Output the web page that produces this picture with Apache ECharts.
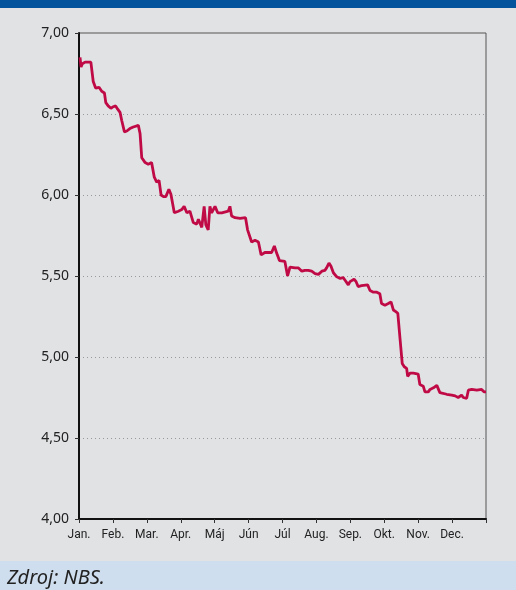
<!DOCTYPE html>
<html>
<head>
<meta charset="utf-8">
<script src="https://cdn.jsdelivr.net/npm/echarts@6/dist/echarts.min.js"></script>
<style>
html,body{margin:0;padding:0;background:#e1e2e4;}
#c{width:516px;height:590px;}
</style>
</head>
<body>
<div id="c"></div>
<script>
// month labels (tick positions at month starts, 0..11)
const monthLabels = ['Jan.','Feb.','Mar.','Apr.','Máj','Jún','Júl','Aug.','Sep.','Okt.','Nov.','Dec.'];
// y tick values
const yTicks = [4.0, 4.5, 5.0, 5.5, 6.0, 6.5, 7.0];
// time position in months (0 = 1 Jan, 12 = 31 Dec)
const t = [0.03,0.06,0.10,0.18,0.35,0.42,0.49,0.59,0.67,0.75,0.79,0.86,0.94,1.01,1.08,1.14,1.21,1.26,1.34,1.41,1.50,1.60,1.75,1.80,1.85,1.95,2.04,2.14,2.22,2.29,2.36,2.42,2.49,2.56,2.65,2.71,2.81,2.93,3.03,3.10,3.18,3.27,3.37,3.47,3.52,3.62,3.69,3.74,3.81,3.86,3.91,4.01,4.09,4.21,4.40,4.45,4.50,4.60,4.75,4.91,4.97,5.09,5.19,5.29,5.37,5.48,5.68,5.76,5.83,5.91,6.07,6.15,6.17,6.22,6.37,6.47,6.57,6.66,6.76,6.86,6.96,7.06,7.16,7.25,7.30,7.37,7.43,7.50,7.60,7.70,7.79,7.84,7.89,7.94,7.99,8.04,8.11,8.17,8.23,8.33,8.51,8.58,8.68,8.78,8.87,8.92,9.02,9.07,9.12,9.20,9.27,9.34,9.40,9.46,9.53,9.59,9.66,9.69,9.76,9.86,10.00,10.05,10.15,10.20,10.30,10.35,10.45,10.55,10.59,10.64,10.69,10.84,10.99,11.09,11.18,11.28,11.33,11.43,11.48,11.58,11.63,11.73,11.87,11.94,12.00];
// rate values
const rate = [6.85,6.79,6.81,6.82,6.82,6.70,6.66,6.665,6.64,6.63,6.57,6.55,6.535,6.545,6.55,6.53,6.51,6.46,6.39,6.395,6.41,6.42,6.43,6.38,6.23,6.20,6.19,6.20,6.11,6.08,6.09,6.00,5.99,5.99,6.035,6.005,5.89,5.90,5.91,5.93,5.89,5.90,5.83,5.82,5.85,5.80,5.93,5.815,5.785,5.93,5.89,5.93,5.89,5.89,5.90,5.93,5.87,5.86,5.855,5.86,5.785,5.71,5.72,5.71,5.63,5.645,5.645,5.685,5.64,5.595,5.59,5.50,5.51,5.555,5.55,5.55,5.53,5.535,5.535,5.53,5.515,5.51,5.53,5.535,5.55,5.58,5.56,5.52,5.495,5.485,5.49,5.475,5.485,5.445,5.465,5.455,5.48,5.465,5.435,5.44,5.445,5.41,5.40,5.40,5.39,5.33,5.32,5.31,5.33,5.34,5.29,5.28,5.27,5.125,4.96,4.94,4.93,4.88,4.90,4.90,4.895,4.83,4.82,4.785,4.785,4.80,4.81,4.825,4.82,4.78,4.77,4.77,4.765,4.76,4.75,4.765,4.75,4.745,4.795,4.80,4.805,4.795,4.80,4.785,4.785];

const data = t.map((x, i) => [x, rate[i]]);

const chart = echarts.init(document.getElementById('c'), null, {renderer: 'canvas'});
chart.setOption({
  backgroundColor: '#e1e2e4',
  animation: false,
  grid: {left: 79, right: 30, top: 33, bottom: 71, show: true, borderColor: '#555', borderWidth: 1, backgroundColor: 'transparent'},
  graphic: [
    {type: 'rect', left: 0, top: 0, shape: {width: 516, height: 8}, style: {fill: '#03529c'}, z: 10},
    {type: 'rect', left: 0, top: 561, shape: {width: 516, height: 29}, style: {fill: '#cfdeee'}, z: 10},
    {type: 'text', left: 7, top: 568, style: {text: 'Zdroj: NBS.', font: 'italic 20px "Noto Sans", sans-serif', fill: '#222'}, z: 11}
  ],
  xAxis: {
    type: 'value', min: 0, max: 12, interval: 1,
    axisLine: {show: true, onZero: false, lineStyle: {color: '#111', width: 2}},
    axisTick: {show: true, length: 4, lineStyle: {color: '#333'}},
    splitLine: {show: false},
    axisLabel: {
      color: '#222', fontSize: 12, fontFamily: '"Liberation Sans Narrow", "Roboto", sans-serif', margin: 10,
      formatter: v => (v < 12 ? monthLabels[Math.round(v)] : '')
    }
  },
  yAxis: {
    type: 'value', min: yTicks[0], max: yTicks[yTicks.length - 1], interval: 0.5,
    axisLine: {show: true, lineStyle: {color: '#111', width: 2}},
    axisTick: {show: true, length: 4, lineStyle: {color: '#333'}},
    splitLine: {show: true, lineStyle: {color: '#9a9a9a', type: [1, 3], width: 1}},
    axisLabel: {
      color: '#222', fontSize: 14, fontFamily: '"Noto Sans", sans-serif', margin: 10,
      formatter: v => v.toFixed(2).replace('.', ',')
    }
  },
  series: [{
    type: 'line', data: data, showSymbol: false, smooth: false,
    lineStyle: {color: '#bf0a46', width: 2.8},
    clip: true
  }]
});
</script>
</body>
</html>
